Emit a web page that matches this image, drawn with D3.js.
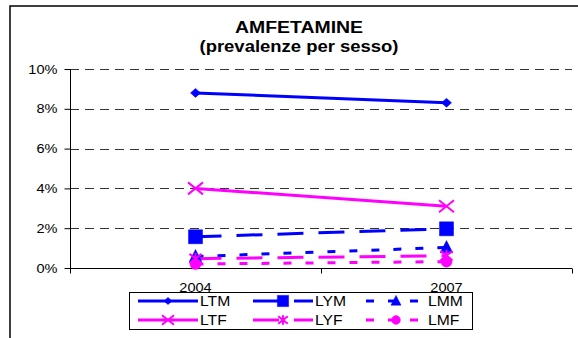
<!DOCTYPE html>
<meta charset="utf-8">
<style>
body { margin: 0; background: #fff; }
text { font-family: "Liberation Sans", Arial, sans-serif; fill: #000; }
</style>
<svg width="578" height="338"></svg>
<script src="https://d3js.org/d3.v7.min.js"></script>
<script>

// dati
var years = ["2004", "2007"];
var LTM = [0.088, 0.083];
var LYM = [0.0157, 0.0197];
var LMM = [0.0058, 0.0103];
var LTF = [0.040, 0.031];
var LYF = [0.0047, 0.0062];
var LMF = [0.0020, 0.0032];
var yTicks = [0, 0.02, 0.04, 0.06, 0.08, 0.10];

var blue = "#0000ff", pink = "#ff00ff";
var sx = 1.12; // testo un po' allargato come nell'originale

// simboli
var diamond = { draw: function(c, r) { c.moveTo(0, -r * 0.9); c.lineTo(r, 0); c.lineTo(0, r * 0.9); c.lineTo(-r, 0); c.closePath(); } };
var square = { draw: function(c, r) { c.rect(-r, -r, 2 * r, 2 * r); } };
var triangle = { draw: function(c, r) { c.moveTo(0, -r); c.lineTo(r * 0.9, r * 0.75); c.lineTo(-r * 0.9, r * 0.75); c.closePath(); } };
var cross = { draw: function(c, r) { c.moveTo(-r, -r * 0.8); c.lineTo(r, r * 0.8); c.moveTo(r, -r * 0.8); c.lineTo(-r, r * 0.8); } };
var aster = { draw: function(c, r) { c.moveTo(-r, -r * 0.8); c.lineTo(r, r * 0.8); c.moveTo(r, -r * 0.8); c.lineTo(-r, r * 0.8); c.moveTo(0, -r); c.lineTo(0, r); } };
var circle = { draw: function(c, r) { c.moveTo(r, 0); c.arc(0, 0, r, 0, 2 * Math.PI); } };

var series = [
  { name: "LTM", values: LTM, color: blue, dash: null, sym: diamond, r: 5, filled: true },
  { name: "LYM", values: LYM, color: blue, dash: "26,15", sym: square, r: 7, filled: true },
  { name: "LMM", values: LMM, color: blue, dash: "8,14", sym: triangle, r: 7, filled: true },
  { name: "LTF", values: LTF, color: pink, dash: null, sym: cross, r: 7.5, filled: false },
  { name: "LYF", values: LYF, color: pink, dash: "26,15", sym: aster, r: 6, filled: false },
  { name: "LMF", values: LMF, color: pink, dash: "8,14", sym: circle, r: 5.5, filled: true }
];

var svg = d3.select("svg");

// cornice esterna (esce dall'immagine a destra e in basso)
svg.append("rect").attr("x", 10).attr("y", 6).attr("width", 600).attr("height", 400)
  .attr("fill", "none").attr("stroke", "#000").attr("stroke-width", 1.5);

var x = d3.scaleBand().domain(years).range([70, 572]).paddingInner(0).paddingOuter(0);
var y = d3.scaleLinear().domain([0, 0.10]).range([268, 69]);
var cx = function(i) { return x(years[i]) + x.bandwidth() / 2; };

// griglia
svg.append("g").selectAll("line").data(yTicks.filter(function(d) { return d > 0; })).enter().append("line")
  .attr("x1", 70).attr("x2", 572)
  .attr("y1", function(d) { return Math.round(y(d)) + 0.5; })
  .attr("y2", function(d) { return Math.round(y(d)) + 0.5; })
  .attr("stroke", "#333").attr("stroke-dasharray", "9,6");

// asse y
var yAxis = svg.append("g").attr("transform", "translate(70.5,0)")
  .call(d3.axisLeft(y).tickValues(yTicks).tickFormat(d3.format(".0%")).tickSize(6).tickPadding(5.6));
yAxis.select(".domain").attr("d", "M0," + y(0.10) + "V" + y(0));
yAxis.selectAll("text").attr("font-size", 13).style("font-family", "Liberation Sans, Arial, sans-serif")
  .attr("transform", "scale(" + sx + ",1)");

// asse x
var xAxis = svg.append("g").attr("transform", "translate(0," + (Math.round(y(0)) + 0.5) + ")")
  .call(d3.axisBottom(x).tickSize(0).tickPadding(14));
xAxis.select(".domain").attr("d", "M70,0H572");
xAxis.selectAll("text").attr("font-size", 13).style("font-family", "Liberation Sans, Arial, sans-serif")
  .attr("transform", function() { return null; });
xAxis.selectAll(".tick text").each(function() {
  d3.select(this).attr("transform", "scale(" + sx + ",1)").attr("x", 0);
});
xAxis.selectAll(".tick").attr("transform", function(d) { return "translate(" + (x(d) + x.bandwidth() / 2) / sx * 1 + ",0)"; });
xAxis.selectAll(".tick").attr("transform", function(d) { return "translate(" + (x(d) + x.bandwidth() / 2) + ",0)"; });
xAxis.selectAll(".bound").data(years.map(function(d) { return x(d); }).concat([572])).enter().append("line")
  .attr("x1", function(d) { return Math.round(d) + 0.5; }).attr("x2", function(d) { return Math.round(d) + 0.5; })
  .attr("y1", 0).attr("y2", 5).attr("stroke", "#000");

// linee
var line = d3.line().x(function(d, i) { return cx(i); }).y(function(d) { return y(d); });
series.forEach(function(s) {
  svg.append("path").datum(s.values).attr("d", line)
    .attr("fill", "none").attr("stroke", s.color).attr("stroke-width", 3)
    .attr("stroke-dasharray", s.dash);
});
series.forEach(function(s) {
  svg.append("g").selectAll("path").data(s.values).enter().append("path")
    .attr("transform", function(d, i) { return "translate(" + cx(i) + "," + y(d) + ")"; })
    .attr("d", d3.symbol().type(s.sym).size(s.r))
    .attr("fill", s.filled ? s.color : "none")
    .attr("stroke", s.color).attr("stroke-width", s.filled ? 0.5 : 2);
});

// titolo
svg.append("text").attr("x", 299).attr("y", 33).attr("text-anchor", "middle")
  .attr("font-size", 16).attr("font-weight", "bold")
  .attr("textLength", 128).attr("lengthAdjust", "spacingAndGlyphs").text("AMFETAMINE");
svg.append("text").attr("x", 299).attr("y", 52).attr("text-anchor", "middle")
  .attr("font-size", 16).attr("font-weight", "bold")
  .attr("textLength", 199).attr("lengthAdjust", "spacingAndGlyphs").text("(prevalenze per sesso)");

// legenda
var leg = svg.append("g");
leg.append("rect").attr("x", 129.5).attr("y", 292.5).attr("width", 343).attr("height", 37)
  .attr("fill", "#fff").attr("stroke", "#000").attr("stroke-width", 1);
var colC = [168, 283, 396];
var rowY = [301, 320];
series.forEach(function(s, k) {
  var c = colC[k % 3], ry = rowY[Math.floor(k / 3)];
  leg.append("line").attr("x1", c - 30).attr("x2", c + 30).attr("y1", ry).attr("y2", ry)
    .attr("stroke", s.color).attr("stroke-width", 3).attr("stroke-dasharray", s.dash);
  leg.append("path").attr("transform", "translate(" + c + "," + ry + ")")
    .attr("d", d3.symbol().type(s.sym).size(s.r * 0.8))
    .attr("fill", s.filled ? s.color : "none")
    .attr("stroke", s.color).attr("stroke-width", s.filled ? 0.5 : 2);
  leg.append("text").attr("transform", "translate(" + (c + 32) + "," + (ry + 5) + ") scale(" + sx + ",1)")
    .attr("font-size", 14).text(s.name);
});

</script>
